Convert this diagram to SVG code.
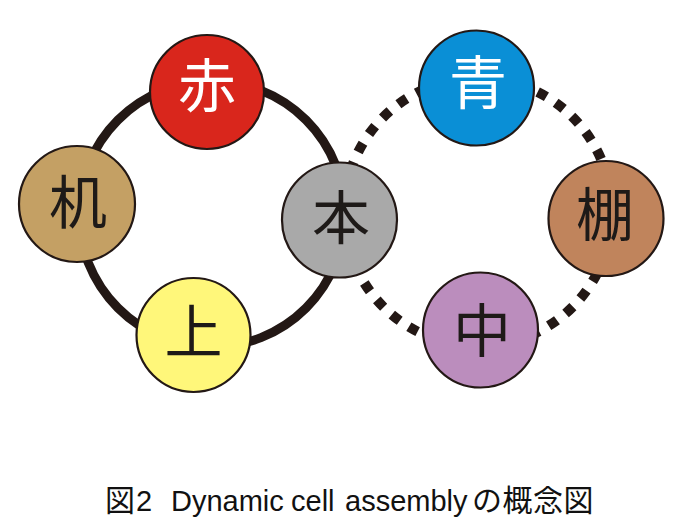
<svg xmlns="http://www.w3.org/2000/svg" width="679" height="528" viewBox="0 0 679 528">
  <style>
    .node { stroke: #231815; stroke-width: 2.2; }
    .lbl { font-family: "Noto Sans CJK JP", "Noto Sans CJK SC", sans-serif; font-size: 58px; text-anchor: middle; }
    .dark { fill: #1e1a18; }
    .light { fill: #ffffff; }
    .cap { font-family: "Liberation Sans", "Noto Sans CJK JP", sans-serif; font-size: 29px; fill: #111111; }
    .capj { font-family: "Noto Sans CJK JP", sans-serif; font-size: 30px; }
  </style>
  <rect width="679" height="528" fill="#ffffff"/>
  <g id="connectors">
    <circle cx="212" cy="214" r="133" fill="none" stroke="#231815" stroke-width="9"/>
    <circle cx="478" cy="212" r="134" fill="none" stroke="#231815" stroke-width="10" stroke-dasharray="10 11"/>
  </g>
  <g id="node-aka">
    <circle class="node" cx="207" cy="92" r="57" fill="#d9261c"/>
    <text class="lbl light" x="207" y="107">赤</text>
  </g>
  <g id="node-tsukue">
    <circle class="node" cx="77" cy="204" r="58" fill="#c4a064"/>
    <text class="lbl dark" x="78" y="224">机</text>
  </g>
  <g id="node-ue">
    <circle class="node" cx="193.5" cy="335" r="57" fill="#fff77a"/>
    <text class="lbl dark" x="193.5" y="353">上</text>
  </g>
  <g id="node-hon">
    <circle class="node" cx="339.5" cy="220" r="57.5" fill="#a9a9a9"/>
    <text class="lbl dark" x="341" y="239">本</text>
  </g>
  <g id="node-ao">
    <circle class="node" cx="476.5" cy="88" r="57.5" fill="#0a8fd6"/>
    <text class="lbl light" x="478" y="104">青</text>
  </g>
  <g id="node-tana">
    <circle class="node" cx="606" cy="218.5" r="57.5" fill="#c0845c"/>
    <text class="lbl dark" x="605" y="236">棚</text>
  </g>
  <g id="node-naka">
    <circle class="node" cx="480.5" cy="330" r="57.5" fill="#bb8dbd"/>
    <text class="lbl dark" x="482" y="352">中</text>
  </g>
  <text class="cap" y="511"><tspan class="capj" x="105">図</tspan><tspan x="136">2</tspan><tspan x="171">Dynamic</tspan><tspan x="291">cell</tspan><tspan x="345">assembly</tspan><tspan class="capj" x="472" letter-spacing="0.5">の概念図</tspan></text>
</svg>
